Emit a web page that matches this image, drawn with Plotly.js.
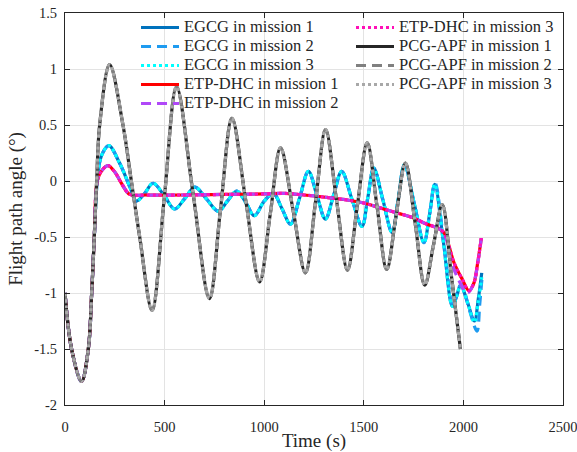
<!DOCTYPE html>
<html>
<head>
<meta charset="utf-8">
<script src="https://cdn.plot.ly/plotly-3.0.1.min.js"></script>
<style>html,body{margin:0;padding:0;background:#fff;}#chart{width:577px;height:452px;}</style>
</head>
<body>
<div id="chart"></div>
<script>
// ---- data ----
var pcgX = [0,33,83,117,134,147,159,174,224,291,333,375,437,498,560,642,725,781,838,907,977,1030,1082,1145,1207,1258,1308,1363,1418,1467,1517,1566,1615,1662,1709,1758,1806,1850,1894,1940,1985];
var pcgY = [-1.0,-1.5,-1.79,-1.5,-1.0,-0.5,0.0,0.5,1.04,0.5,0.0,-0.5,-1.155,-0.16,0.84,-0.1,-1.05,-0.245,0.56,-0.17,-0.90,-0.30,0.295,-0.26,-0.82,-0.18,0.46,-0.17,-0.795,-0.23,0.34,-0.22,-0.79,-0.31,0.16,-0.38,-0.93,-0.57,-0.21,-0.85,-1.50];

var egcgX1 = [0,33,83,117,134,147,162,182,220,274,325,358,400,442,498,550,600,652,710,770,815,862,910,950,1000,1046,1090,1132,1178,1222,1265,1307,1348,1389,1440,1491,1520,1550,1596,1642,1673,1704,1753,1802,1830,1856,1900,1945,1966,1986,2020,2055,2075,2092];
var egcgY1 = [-1.0,-1.5,-1.79,-1.5,-1.0,-0.5,0.0,0.22,0.315,0.16,-0.05,-0.18,-0.11,-0.02,-0.13,-0.25,-0.16,-0.054,-0.16,-0.27,-0.18,-0.09,-0.2,-0.31,-0.18,-0.11,-0.25,-0.385,-0.15,0.086,-0.13,-0.34,-0.13,0.086,-0.16,-0.405,-0.15,0.116,-0.17,-0.46,-0.16,0.146,-0.2,-0.55,-0.3,-0.03,-0.55,-1.12,-1.03,-0.93,-1.08,-1.25,-1.05,-0.82];
var egcgX2 = [0,33,83,117,134,147,162,182,220,274,325,358,400,442,498,550,600,652,710,770,815,862,910,950,1000,1046,1090,1132,1178,1222,1265,1307,1348,1389,1440,1491,1520,1550,1596,1642,1673,1704,1753,1802,1830,1858,1902,1947,1968,1990,2030,2068,2082,2095];
var egcgY2 = [-1.0,-1.5,-1.79,-1.5,-1.0,-0.5,0.0,0.22,0.315,0.16,-0.05,-0.18,-0.11,-0.02,-0.13,-0.25,-0.16,-0.054,-0.16,-0.27,-0.18,-0.09,-0.2,-0.31,-0.18,-0.11,-0.25,-0.385,-0.15,0.086,-0.13,-0.34,-0.13,0.086,-0.16,-0.405,-0.15,0.116,-0.17,-0.46,-0.16,0.146,-0.2,-0.55,-0.3,-0.02,-0.55,-1.12,-1.0,-0.92,-1.15,-1.34,-1.1,-0.83];
var egcgX3 = egcgX1;
var egcgY3 = [-1.0,-1.5,-1.79,-1.5,-1.0,-0.5,0.0,0.22,0.315,0.16,-0.05,-0.18,-0.11,-0.02,-0.13,-0.25,-0.16,-0.054,-0.16,-0.27,-0.18,-0.09,-0.2,-0.31,-0.18,-0.11,-0.25,-0.385,-0.15,0.086,-0.13,-0.34,-0.13,0.086,-0.16,-0.405,-0.15,0.116,-0.17,-0.46,-0.16,0.146,-0.2,-0.55,-0.3,-0.03,-0.55,-1.12,-1.03,-0.93,-1.08,-1.26,-1.07,-0.86];

var etpX1 = [0,33,83,117,134,147,162,182,216,250,290,325,400,600,800,1000,1100,1200,1332,1407,1500,1600,1668,1750,1802,1869,1902,1953,1995,2028,2053,2070,2090];
var etpY1 = [-1.0,-1.5,-1.79,-1.5,-1.0,-0.5,0.0,0.086,0.137,0.08,-0.04,-0.12,-0.125,-0.125,-0.12,-0.115,-0.11,-0.125,-0.15,-0.167,-0.197,-0.25,-0.286,-0.33,-0.375,-0.42,-0.46,-0.73,-0.88,-0.98,-0.91,-0.75,-0.51];
var etpX2 = [0,33,83,117,134,147,162,182,216,250,290,325,400,600,800,1000,1100,1200,1332,1407,1500,1600,1668,1750,1802,1869,1902,1940,1970,2020,2050,2075,2090];
var etpY2 = [-1.0,-1.5,-1.79,-1.5,-1.0,-0.5,0.0,0.086,0.137,0.08,-0.04,-0.12,-0.125,-0.125,-0.12,-0.115,-0.11,-0.125,-0.15,-0.167,-0.197,-0.25,-0.286,-0.33,-0.375,-0.42,-0.46,-0.72,-0.86,-1.0,-0.92,-0.7,-0.51];
var etpX3 = etpX1;
var etpY3 = etpY1;

var seriesNames = ['EGCG in mission 1','EGCG in mission 2','EGCG in mission 3','ETP-DHC in mission 1','ETP-DHC in mission 2','ETP-DHC in mission 3','PCG-APF in mission 1','PCG-APF in mission 2','PCG-APF in mission 3'];
var xTickVals = [0,500,1000,1500,2000,2500];
var xTickText = ['0','500','1000','1500','2000','2500'];
var yTickVals = [-2,-1.5,-1,-0.5,0,0.5,1,1.5];
var yTickText = ['-2','-1.5','-1','-0.5','0','0.5','1','1.5'];

// ---- styling ----
var FONT = 'Liberation Serif';
var INK = '#262626';
var DASH = '10px,6px';
var DOT = '3px,3px';
var specs = [
  [egcgX1, egcgY1, '#0072BD', 'solid', 'legend'],
  [egcgX2, egcgY2, '#1E9BF0', DASH, 'legend'],
  [egcgX3, egcgY3, '#00FFFF', DOT, 'legend'],
  [etpX1, etpY1, '#FF0000', 'solid', 'legend'],
  [etpX2, etpY2, '#B048F8', DASH, 'legend'],
  [etpX3, etpY3, '#FF10B8', DOT, 'legend2'],
  [pcgX, pcgY, '#262626', 'solid', 'legend2'],
  [pcgX, pcgY, '#808080', DASH, 'legend2'],
  [pcgX, pcgY, '#A8A8A8', DOT, 'legend2']
];
var traces = specs.map(function (s, i) {
  return {
    type: 'scatter', mode: 'lines', x: s[0], y: s[1],
    name: '<span style="font-size:16.5px">' + seriesNames[i] + '</span>',
    legend: s[4],
    line: {color: s[2], width: 3.2, dash: s[3], shape: 'spline', smoothing: 1}
  };
});

var axisCommon = {
  showline: true, linecolor: INK, linewidth: 1, mirror: 'ticks',
  ticks: 'inside', ticklen: 5, tickcolor: INK, tickwidth: 1,
  showgrid: true, gridcolor: '#E3E3E3', gridwidth: 1, zeroline: false,
  tickfont: {family: FONT, size: 14.5, color: INK}, tickmode: 'array',
  ticklabeloverflow: 'allow'
};
var legendCommon = {
  y: 1.0, xanchor: 'left', yanchor: 'top', bgcolor: 'rgba(0,0,0,0)', borderwidth: 0,
  font: {family: FONT, size: 12, color: INK}, itemwidth: 38, traceorder: 'normal'
};
var layout = {
  width: 577, height: 452,
  margin: {l: 65, r: 14, t: 13, b: 47},
  paper_bgcolor: '#FFFFFF', plot_bgcolor: '#FFFFFF',
  font: {family: FONT, color: INK, size: 14},
  showlegend: true,
  xaxis: Object.assign({}, axisCommon, {
    range: [0, 2500], tickvals: xTickVals, ticktext: xTickText, ticklabelstandoff: 9,
    title: {text: 'Time (s)', font: {family: FONT, size: 19, color: INK}, standoff: 2}
  }),
  yaxis: Object.assign({}, axisCommon, {
    range: [-2, 1.5], tickvals: yTickVals, ticktext: yTickText, ticklabelstandoff: 4,
    title: {text: 'Flight path angle (°)', font: {family: FONT, size: 19, color: INK}, standoff: 6}
  }),
  legend: Object.assign({}, legendCommon, {x: 0.1426}),
  legend2: Object.assign({}, legendCommon, {x: 0.5743})
};
Plotly.newPlot('chart', traces, layout, {displayModeBar: false, staticPlot: true});
</script>
</body>
</html>
